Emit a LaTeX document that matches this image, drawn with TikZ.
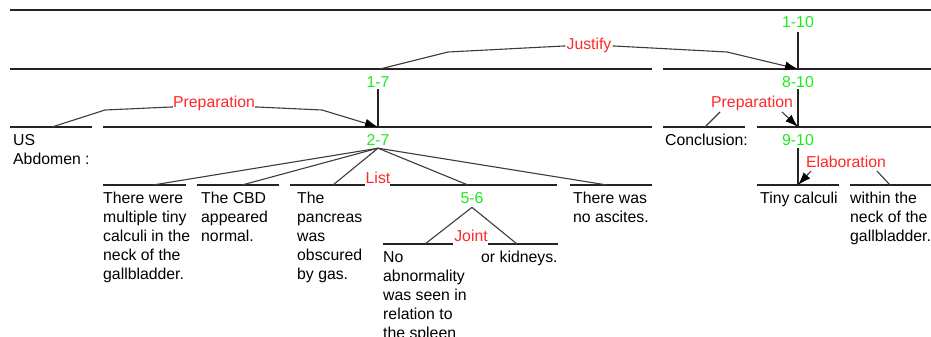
\documentclass[tikz,border=0pt]{standalone}
\usepackage{fontspec}
\setmainfont{Liberation Sans}
\usetikzlibrary{arrows.meta}
\definecolor{spangreen}{RGB}{30,235,30}
\definecolor{relred}{RGB}{255,40,40}
\definecolor{linegray}{RGB}{35,35,35}
\definecolor{relgray}{RGB}{60,60,60}
\newcommand{\dfont}{\fontsize{15.8}{19}\selectfont}
\begin{document}
\begin{tikzpicture}[x=1pt,y=-1pt,
  spanline/.style={draw=linegray,line width=1.6pt},
  rel/.style={draw=relgray,line width=1.1pt},
  relarrow/.style={rel,-{Latex[length=13pt,width=9pt,color=black]}},
  spanlab/.style={text=spangreen,font=\dfont,anchor=base,inner sep=0pt},
  rellab/.style={text=relred,font=\dfont,anchor=base,inner sep=0pt},
  txt/.style={font=\dfont,anchor=base west,align=left,inner sep=0pt},
]
\useasboundingbox[fill=white] (0,0) rectangle (931,337);

% span lines
\draw[spanline] (10,10) -- (931,10);
\draw[spanline] (10,69) -- (652,69);
\draw[spanline] (663,69) -- (931,69);
\draw[spanline] (10,127) -- (92,127);
\draw[spanline] (103,127) -- (652,127);
\draw[spanline] (663,127) -- (745,127);
\draw[spanline] (757,127) -- (931,127);
\draw[spanline] (103,185) -- (186,185);
\draw[spanline] (197,185) -- (279,185);
\draw[spanline] (290,185) -- (365,185);
\draw[spanline] (390,185) -- (557,185);
\draw[spanline] (570,185) -- (652,185);
\draw[spanline] (757,185) -- (839,185);
\draw[spanline] (850,185) -- (931,185);
\draw[spanline] (383,244) -- (453,244);
\draw[spanline] (488,244) -- (558,244);

% span labels
\node[spanlab] (n110) at (798,28) {1-10};
\node[spanlab] (n810) at (798,87) {8-10};
\node[spanlab] (n910) at (798,145) {9-10};
\node[spanlab] (n17) at (378,87) {1-7};
\node[spanlab] (n27) at (378,145) {2-7};
\node[spanlab] (n56) at (472,203) {5-6};

% relation labels
\node[rellab] (just) at (589,50) {Justify};
\node[rellab] (prepL) at (214,107) {Preparation};
\node[rellab] (prepR) at (752,107) {Preparation};
\node[rellab] (elab) at (846,167) {Elaboration};
\node[rellab] (list) at (378,183) {List};
\node[rellab] (joint) at (471,241) {Joint};

% texts (base anchor = baseline of last line; first-line baseline + 19 per extra line)
\node[txt] (us) at (13,164) {US\\Abdomen :};
\node[txt] (concl) at (665,145) {Conclusion:};
\node[txt] (e1) at (103,279) {There were\\multiple tiny\\calculi in the\\neck of the\\gallbladder.};
\node[txt] (e2) at (201,241) {The CBD\\appeared\\normal.};
\node[txt] (e3) at (297,279) {The\\pancreas\\was\\obscured\\by gas.};
\node[txt] (e4) at (383,338) {No\\abnormality\\was seen in\\relation to\\the spleen};
\node[txt] (e5) at (481,262) {or kidneys.};
\node[txt] (e6) at (573,222) {There was\\no ascites.};
\node[txt] (e7) at (760,203) {Tiny calculi};
\node[txt] (e8) at (850,241) {within the\\neck of the\\gallbladder.};

% attachment coordinates
\coordinate (top110) at (798,69);
\coordinate (top810) at (798,127);
\coordinate (top910) at (798,185);
\coordinate (top17) at (378,127);
\coordinate (c1) at (153,185);
\coordinate (c2) at (242,185);
\coordinate (c3) at (333,185);
\coordinate (c4) at (468,185);
\coordinate (c5) at (607,185);
\coordinate (j1) at (425,244);
\coordinate (j2) at (517,244);
\coordinate (from17) at (380,69);
\coordinate (fromUS) at (52,127);
\coordinate (fromConcl) at (705,127);
\coordinate (fromWithin) at (890,185);

% vertical nucleus lines
\draw[spanline,line width=1.4pt] ([yshift=-4pt]n110.south) -- (top110);
\draw[spanline,line width=1.4pt] ([yshift=-2pt]n810.south) -- (top810);
\draw[spanline,line width=1.4pt] ([yshift=-3pt]n910.south) -- (top910);
\draw[spanline,line width=1.4pt] ([yshift=-2pt]n17.south) -- (top17);

% List fan
\foreach \c in {c1,c2,c3,c4,c5}
  \draw[rel] ([yshift=-3pt]n27.south) -- (\c);
% Joint fan
\draw[rel] ([yshift=-4pt]n56.south) -- (j1);
\draw[rel] ([yshift=-4pt]n56.south) -- (j2);

% Justify
\draw[rel] (from17) -- (448,52) -- ([xshift=-1pt]just.west);
\draw[relarrow] ([xshift=1pt]just.east) -- (727,52) -- (top110);
% Preparation left
\draw[rel] (fromUS) -- (105,110) -- (171,107) -- (prepL.base west);
\draw[relarrow] (prepL.base east) -- (257,107) -- (322,110) -- (top17);
% Preparation right
\draw[rel] (fromConcl) -- (720,112);
\draw[relarrow] (782,112) -- (top810);
% Elaboration
\draw[relarrow] (811,171) -- (top910);
\draw[rel] (877,171) -- (fromWithin);
\end{tikzpicture}
\end{document}
